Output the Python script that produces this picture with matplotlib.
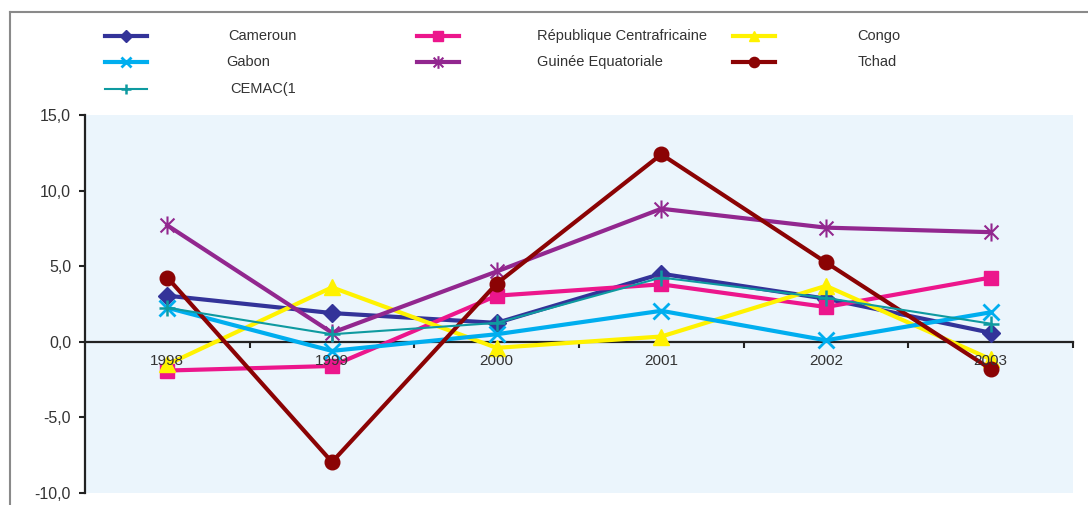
import numpy as np
import matplotlib
matplotlib.use('Agg')
import matplotlib.pyplot as plt
from matplotlib.lines import Line2D
from matplotlib.path import Path

plt.rcParams['font.family'] = ['Liberation Sans', 'DejaVu Sans']

years = ['1998', '1999', '2000', '2001', '2002', '2003']

cameroun = [3.05, 1.9, 1.25, 4.5, 2.85, 0.6]
rca = [-1.9, -1.6, 3.05, 3.8, 2.3, 4.25]
congo = [-1.5, 3.6, -0.4, 0.35, 3.7, -1.15]
gabon = [2.25, -0.6, 0.5, 2.05, 0.1, 1.95]
guinee = [7.7, 0.6, 4.65, 8.8, 7.55, 7.25]
tchad = [4.25, -7.95, 3.85, 12.4, 5.25, -1.8]
cemac = [2.25, 0.5, 1.25, 4.25, 2.9, 1.2]

# asterisk marker: an x with a vertical bar through it
star = Path([(-1, -1), (1, 1), (-1, 1), (1, -1), (0, -1.3), (0, 1.3)],
            [Path.MOVETO, Path.LINETO, Path.MOVETO, Path.LINETO, Path.MOVETO, Path.LINETO])

# name, values, colour, marker, marker size, marker edge width, line width
series = [
    ('Cameroun', cameroun, '#333399', 'D', 9, 1, 3.0),
    ('République Centrafricaine', rca, '#EC168C', 's', 9.5, 1, 3.0),
    ('Congo', congo, '#FFF200', '^', 11, 1, 3.0),
    ('Gabon', gabon, '#00AEEF', 'x', 11, 2, 3.0),
    ('Guinée Equatoriale', guinee, '#92278F', star, 13, 1.5, 3.0),
    ('Tchad', tchad, '#8B0304', 'o', 10.5, 1, 3.0),
    ('CEMAC(1', cemac, '#0E9AA0', '+', 11, 1.8, 1.5),
]

W, H = 1088, 505
fig = plt.figure(figsize=(W / 100, H / 100), dpi=100)
ax = fig.add_axes([85 / W, 1 - 493 / H, (1073 - 85) / W, (493 - 115) / H])
ax.set_facecolor('#EBF5FC')

x = np.arange(len(years))
for name, vals, col, mk, ms, mew, lw in series:
    ax.plot(x, vals, color=col, lw=lw, marker=mk, ms=ms, mew=mew,
            mfc=col, mec=col, solid_joinstyle='miter', zorder=3)

ax.set_xlim(-0.5, 5.5)
ax.set_ylim(-10, 15)
ax.set_yticks(np.arange(-10, 16, 5))
ax.set_yticklabels([f'{v:.1f}'.replace('.', ',') for v in np.arange(-10, 16, 5)])

for s in ['top', 'right']:
    ax.spines[s].set_visible(False)
ax.spines['bottom'].set_position(('data', 0))
for s in ['bottom', 'left']:
    ax.spines[s].set_linewidth(1.6)
    ax.spines[s].set_color('#222222')

ax.set_xticks(np.arange(0.5, 6, 1))
ax.set_xticklabels([])
ax.tick_params(axis='x', direction='out', length=4, width=1.5, color='#222222')
ax.tick_params(axis='y', direction='out', length=4, width=1.5, color='#222222',
               labelsize=11.5, labelcolor='#333333', pad=6)

# year labels sit just under the zero line, above the series
for xi, yr in zip(x, years):
    ax.text(xi, -1.25, yr, ha='center', va='center', fontsize=11,
            color='#333333', zorder=10)

# legend laid out in three columns above the plot
def px(xp, yp):
    return xp / W, 1 - yp / H

slots = [(105, 228, 36), (417, 537, 36), (733, 857, 36),
         (105, 226, 62), (417, 537, 62), (733, 858, 62),
         (105, 230, 89)]
for (hx, tx, ty), (name, vals, col, mk, ms, mew, lw) in zip(slots, series):
    x0, y0 = px(hx, ty)
    x1, _ = px(hx + 42, ty)
    fig.add_artist(Line2D([x0, x1], [y0, y0], color=col, lw=lw, transform=fig.transFigure))
    fig.add_artist(Line2D([(x0 + x1) / 2], [y0], color=col, marker=mk, ms=ms * 0.7, mew=mew,
                          mfc=col, mec=col, transform=fig.transFigure))
    tx0, _ = px(tx, ty)
    fig.text(tx0, y0, name, fontsize=10.5, color='#333333', va='center', ha='left')

# thin grey frame around the chart area
fig.add_artist(Line2D([10 / W, 1], [1 - 11.5 / H] * 2, color='#8a8a8a', lw=1.5,
                      transform=fig.transFigure))
fig.add_artist(Line2D([10 / W] * 2, [0, 1 - 11.5 / H], color='#8a8a8a', lw=1.5,
                      transform=fig.transFigure))

fig.savefig('out.png', dpi=100)
